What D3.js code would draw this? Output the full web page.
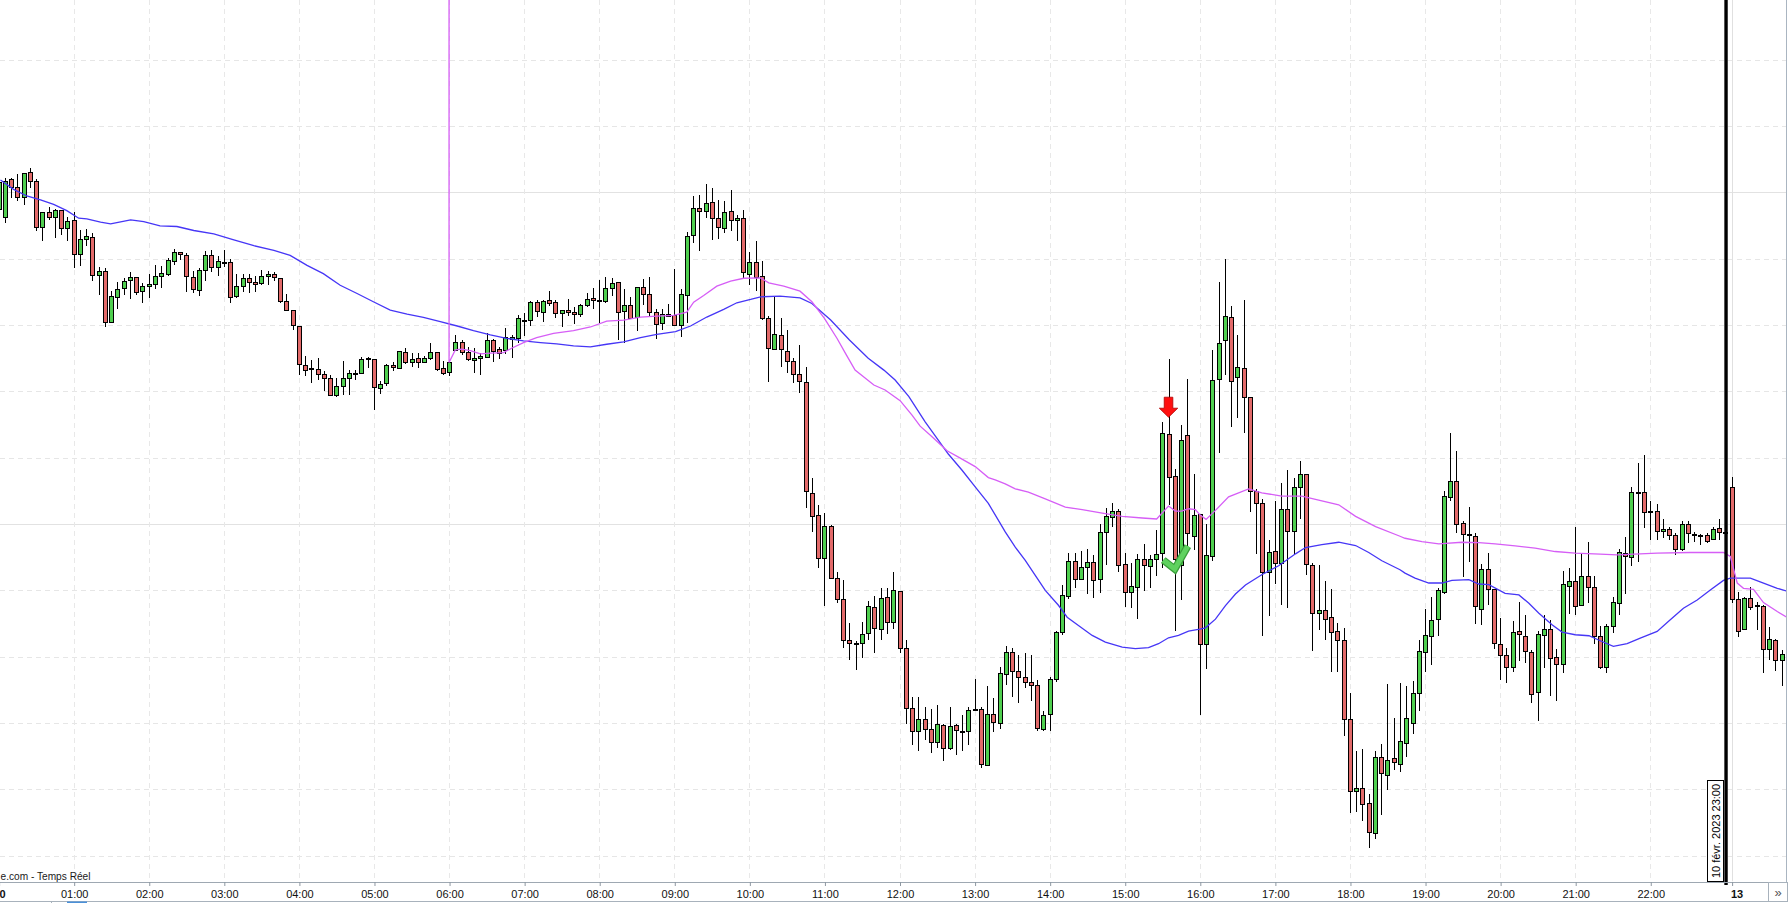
<!DOCTYPE html>
<html>
<head>
<meta charset="utf-8">
<script src="https://cdn.jsdelivr.net/npm/d3@7/dist/d3.min.js"></script>
<style>
html,body{margin:0;padding:0;background:#fff;overflow:hidden;}
svg{display:block;}
</style>
</head>
<body>
<svg id="chart" width="1788" height="903"></svg>
<script>
// ---------- DATA (5-minute candles, index 0 = 10 Feb 00:00 ; 277 = 13 Feb 00:00) ----------
const openP = [
15455.0,15452.5,15463.9,15461.5,15458.5,15466.0,15463.3,15449.7,15454.0,15452.7,15454.6,15449.4,
15451.6,15441.3,15445.9,15446.5,15435.0,15436.3,15420.9,15428.5,15431.1,15433.5,15434.5,15430.3,
15431.7,15432.3,15434.8,15435.4,15439.3,15442.0,15441.1,15434.6,15430.7,15436.6,15441.1,15437.5,
15439.0,15439.0,15428.7,15431.8,15434.3,15433.0,15432.7,15434.8,15435.4,15434.2,15427.2,15424.6,
15419.7,15407.9,15407.1,15406.7,15405.2,15404.0,15398.9,15401.7,15404.0,15405.5,15405.5,15410.0,
15409.7,15401.0,15402.5,15407.9,15407.1,15411.8,15408.8,15410.0,15408.9,15410.1,15411.8,15407.0,
15405.8,15412.5,15414.8,15412.0,15409.3,15410.0,15410.3,15415.5,15412.8,15412.5,15415.9,15416.0,
15421.5,15421.4,15426.9,15423.8,15427.4,15426.9,15423.5,15424.4,15423.9,15423.2,15425.9,15428.0,
15427.4,15427.2,15431.2,15432.9,15424.3,15426.1,15422.3,15431.5,15429.4,15424.0,15420.6,15423.4,
15422.9,15420.1,15429.1,15447.1,15455.2,15454.3,15457.0,15452.2,15449.2,15454.3,15451.6,15452.2,
15435.4,15439.0,15434.8,15422.2,15412.9,15417.1,15412.3,15409.0,15405.1,15402.7,15369.2,15362.6,
15349.6,15359.4,15343.6,15337.5,15324.9,15324.0,15324.0,15327.0,15335.1,15328.2,15337.9,15330.3,
15339.8,15322.5,15304.4,15297.5,15301.1,15298.1,15294.4,15299.3,15292.6,15299.3,15297.7,15297.5,
15304.2,15304.1,15287.3,15302.6,15300.1,15314.9,15321.4,15315.7,15314.0,15312.3,15311.5,15298.3,
15302.8,15313.3,15327.4,15338.3,15348.8,15343.5,15347.0,15348.6,15343.5,15357.6,15362.2,15364.0,
15348.0,15339.5,15341.0,15349.5,15347.3,15349.5,15351.2,15387.2,15374.5,15347.7,15386.9,15356.5,
15362.9,15323.7,15350.3,15403.6,15415.4,15422.3,15404.3,15407.1,15398.3,15369.9,15366.2,15345.6,
15351.8,15348.3,15364.4,15358.0,15371.1,15375.0,15347.6,15333.3,15334.0,15331.9,15327.7,15325.1,
15301.2,15279.4,15280.4,15276.0,15266.8,15289.7,15284.4,15289.3,15287.7,15294.0,15300.0,15309.0,
15321.4,15326.1,15331.3,15339.6,15368.1,15372.9,15360.2,15356.9,15356.3,15334.3,15346.4,15340.3,
15323.8,15320.4,15316.8,15327.7,15326.2,15321.4,15309.3,15326.5,15328.3,15319.8,15317.7,15341.4,
15342.8,15335.5,15344.3,15340.9,15326.1,15316.8,15329.1,15336.1,15351.2,15350.1,15369.7,15369.6,
15363.9,15363.8,15357.9,15358.4,15356.6,15352.4,15360.1,15356.9,15356.8,15356.6,15355.4,15358.7,
15357.5,15371.3,15337.3,15328.3,15337.6,15335.5,15335.3,15322.3,15325.1,15319.0
];
const highP = [
15465.0,15464.2,15464.2,15465.5,15465.9,15467.2,15464.0,15454.2,15455.5,15454.9,15454.7,15452.5,
15454.0,15448.7,15448.9,15447.7,15437.5,15437.2,15430.2,15433.0,15434.2,15436.0,15434.5,15432.7,
15435.5,15438.1,15437.9,15440.3,15443.0,15442.1,15441.7,15436.4,15437.2,15442.4,15442.6,15440.9,
15442.5,15440.0,15435.5,15435.5,15435.5,15434.7,15436.5,15436.4,15436.0,15434.2,15429.4,15424.6,
15419.7,15410.7,15409.3,15410.0,15406.2,15404.9,15404.0,15409.2,15406.5,15406.3,15410.3,15410.3,
15409.7,15403.0,15408.3,15408.7,15412.3,15413.1,15411.5,15411.5,15410.7,15414.5,15411.8,15409.0,
15409.1,15416.9,15415.5,15413.3,15413.0,15411.7,15417.5,15415.9,15413.3,15419.0,15417.0,15423.0,
15423.5,15427.3,15427.5,15427.5,15430.2,15427.5,15424.4,15427.7,15425.5,15426.3,15429.8,15431.3,
15433.7,15434.5,15434.2,15432.9,15431.0,15428.5,15431.5,15433.9,15434.5,15424.9,15424.9,15426.4,
15437.0,15431.0,15448.0,15458.9,15459.2,15462.5,15461.2,15457.7,15457.4,15460.7,15453.1,15454.6,
15442.0,15445.4,15439.4,15422.7,15428.5,15422.0,15418.6,15410.0,15413.9,15407.4,15374.0,15365.6,
15363.2,15359.7,15345.6,15343.1,15330.0,15324.8,15330.3,15336.7,15338.3,15340.6,15340.6,15345.5,
15339.8,15325.0,15307.7,15307.7,15304.7,15304.2,15305.4,15299.6,15304.7,15299.6,15302.4,15304.7,
15313.4,15304.7,15311.1,15307.4,15317.0,15323.1,15322.7,15320.6,15321.2,15320.4,15313.1,15303.5,
15313.8,15327.7,15341.5,15351.2,15351.3,15352.0,15352.5,15350.8,15360.1,15364.9,15366.4,15364.6,
15351.3,15348.3,15351.0,15354.0,15350.8,15358.1,15390.7,15409.8,15376.6,15389.9,15403.8,15375.2,
15362.9,15360.0,15412.4,15433.0,15440.0,15425.6,15417.0,15427.6,15398.3,15370.5,15367.6,15355.3,
15367.0,15372.5,15376.2,15373.8,15379.1,15375.0,15348.3,15347.7,15342.8,15340.4,15330.1,15328.7,
15309.0,15291.7,15292.3,15278.6,15291.4,15293.8,15311.7,15301.6,15312.0,15311.0,15312.8,15325.1,
15334.4,15337.9,15340.6,15370.0,15387.4,15382.1,15360.9,15365.1,15357.2,15348.0,15351.2,15340.3,
15331.6,15322.6,15330.6,15336.6,15332.6,15322.1,15327.6,15332.6,15331.1,15322.3,15345.7,15346.7,
15359.0,15351.2,15354.5,15344.2,15329.1,15329.9,15337.9,15352.5,15356.0,15371.1,15378.3,15380.8,
15367.0,15366.0,15361.6,15359.0,15357.2,15360.9,15360.9,15357.7,15357.0,15357.2,15359.0,15361.6,
15357.7,15374.1,15339.4,15338.1,15341.0,15336.6,15335.6,15328.9,15325.4,15321.9
];
const lowP = [
15452.0,15451.2,15458.7,15457.7,15456.4,15461.5,15448.7,15445.5,15451.9,15446.4,15447.3,15445.5,
15437.4,15438.2,15444.2,15433.5,15429.3,15419.7,15420.9,15425.1,15429.3,15428.2,15429.5,15426.9,
15428.4,15431.3,15431.4,15435.2,15438.3,15439.9,15430.2,15429.9,15429.0,15433.7,15436.4,15435.0,
15437.7,15426.9,15428.5,15430.2,15429.9,15430.2,15432.5,15432.5,15433.5,15426.9,15424.4,15418.9,
15405.2,15405.0,15402.7,15403.7,15400.3,15398.9,15398.7,15399.2,15399.2,15403.7,15405.5,15407.3,
15394.7,15399.5,15401.8,15406.5,15407.1,15408.5,15407.5,15407.3,15408.9,15409.9,15406.3,15405.3,
15405.0,15412.5,15411.3,15409.3,15405.7,15405.1,15410.3,15409.0,15410.2,15411.5,15410.5,15415.0,
15417.0,15420.0,15422.7,15421.3,15426.0,15422.3,15419.8,15423.0,15420.7,15422.8,15425.7,15425.0,
15421.0,15426.9,15428.9,15415.7,15415.0,15422.0,15418.5,15426.2,15423.0,15416.2,15418.7,15422.7,
15419.9,15416.7,15420.9,15444.9,15442.7,15452.7,15445.9,15446.2,15447.9,15448.5,15445.5,15434.5,
15432.4,15430.5,15421.9,15403.0,15412.9,15407.5,15405.7,15402.7,15399.7,15365.0,15358.0,15347.1,
15335.5,15343.6,15336.6,15322.8,15319.4,15316.2,15320.0,15325.4,15321.5,15325.4,15327.0,15328.5,
15321.5,15300.1,15293.6,15292.0,15295.3,15291.2,15292.8,15288.8,15292.3,15290.5,15292.0,15293.6,
15303.9,15286.6,15287.3,15297.5,15298.4,15311.8,15308.1,15306.3,15310.8,15307.0,15298.0,15298.0,
15298.0,15312.6,15326.9,15337.8,15341.0,15343.5,15339.2,15338.0,15339.5,15348.0,15359.3,15345.7,
15335.2,15334.9,15331.6,15340.2,15341.0,15344.5,15347.0,15366.1,15328.1,15337.5,15353.8,15352.5,
15302.6,15316.6,15349.1,15381.7,15405.3,15389.6,15392.4,15387.8,15363.9,15351.4,15326.6,15332.5,
15342.1,15336.0,15335.1,15351.2,15361.7,15345.0,15321.9,15328.4,15325.4,15315.8,15315.7,15296.5,
15273.1,15273.5,15270.6,15262.5,15265.4,15272.7,15280.1,15286.2,15285.5,15290.0,15297.0,15304.0,
15315.8,15317.8,15326.6,15339.3,15367.3,15357.7,15344.2,15348.7,15330.1,15329.8,15335.8,15322.5,
15313.4,15312.3,15315.8,15319.0,15318.5,15306.2,15301.0,15317.0,15308.3,15306.8,15315.3,15333.1,
15332.8,15335.5,15336.6,15324.1,15316.5,15315.5,15327.4,15332.8,15339.3,15347.7,15348.7,15359.0,
15355.4,15355.4,15356.2,15355.4,15350.9,15352.2,15354.7,15355.0,15353.9,15354.7,15355.4,15355.4,
15357.2,15336.6,15326.1,15328.3,15334.3,15328.3,15315.5,15319.2,15316.0,15311.5
];
const closeP = [
15463.0,15463.5,15461.5,15458.5,15465.7,15463.3,15449.7,15454.0,15452.7,15454.6,15449.4,15451.3,
15441.3,15445.9,15446.8,15435.0,15436.3,15420.9,15428.6,15431.0,15433.4,15434.6,15429.9,15431.9,
15432.4,15434.8,15435.7,15439.7,15442.0,15441.4,15434.8,15430.9,15436.6,15441.1,15437.5,15439.3,
15439.0,15428.5,15431.8,15434.3,15433.0,15432.4,15434.8,15435.4,15434.5,15427.2,15424.6,15419.9,
15408.1,15406.3,15406.7,15405.1,15404.0,15398.9,15401.7,15404.0,15405.5,15405.5,15409.7,15409.8,
15401.3,15402.2,15407.9,15407.3,15412.1,15408.9,15409.7,15408.9,15410.1,15411.8,15406.7,15405.5,
15408.7,15414.8,15412.0,15409.8,15410.0,15410.7,15415.5,15412.1,15411.5,15416.5,15416.4,15422.0,
15421.5,15426.8,15424.2,15427.2,15426.5,15423.5,15424.4,15423.8,15423.3,15425.9,15427.7,15427.4,
15427.2,15431.2,15432.7,15424.0,15426.1,15422.0,15431.5,15429.4,15424.0,15420.4,15423.4,15422.7,
15420.1,15429.4,15446.8,15455.2,15454.3,15456.7,15452.2,15449.5,15454.0,15451.6,15452.2,15436.0,
15439.0,15434.5,15422.2,15413.2,15417.4,15412.9,15409.0,15405.2,15403.0,15369.8,15362.4,15349.6,
15359.4,15343.6,15337.5,15324.9,15324.0,15323.8,15326.7,15335.4,15328.5,15337.6,15330.3,15340.0,
15322.5,15304.4,15297.5,15301.1,15298.1,15294.4,15299.6,15292.6,15299.0,15297.8,15297.5,15303.8,
15304.0,15287.5,15302.6,15300.2,15315.0,15321.4,15315.6,15314.0,15312.3,15311.5,15298.6,15302.5,
15313.3,15327.4,15338.7,15348.8,15343.5,15347.0,15348.6,15343.2,15357.6,15362.5,15364.0,15347.7,
15339.5,15341.4,15349.5,15347.7,15349.5,15351.0,15387.5,15374.1,15349.5,15385.4,15357.3,15362.8,
15323.9,15350.6,15403.3,15414.5,15422.7,15403.1,15407.4,15398.3,15369.9,15366.2,15345.6,15351.7,
15348.3,15364.4,15358.0,15371.1,15375.2,15347.9,15333.3,15334.0,15331.3,15327.5,15325.1,15301.2,
15279.4,15280.4,15275.6,15267.2,15289.7,15285.0,15288.9,15288.2,15294.7,15301.5,15309.0,15321.7,
15326.5,15331.0,15340.0,15368.4,15372.9,15359.9,15356.9,15356.7,15335.2,15346.4,15340.3,15324.1,
15320.4,15316.8,15327.4,15326.8,15321.7,15308.7,15326.8,15328.3,15319.5,15317.7,15341.9,15342.8,
15335.3,15344.3,15340.9,15326.1,15317.0,15329.1,15336.4,15351.7,15350.4,15369.6,15369.6,15363.6,
15363.7,15357.9,15358.4,15356.6,15352.4,15360.1,15357.4,15356.8,15356.7,15355.0,15358.4,15357.7,
15357.4,15337.3,15327.8,15337.6,15334.9,15335.3,15322.3,15325.3,15319.0,15320.7
];

// blue moving average  [candle index, value]
const blueLine = [
[0.3,15463.7],[2.4,15460.9],[4.5,15458.9],[6.7,15457.7],[8.8,15456.4],[10.9,15454.5],[12.8,15452.2],[14.1,15452.0],
[16.3,15451.0],[17.9,15450.5],[18.9,15450.9],[21.1,15451.7],[23.2,15451.2],[25.8,15449.9],[28.5,15449.7],[31.2,15448.5],
[34.4,15447.5],[37.6,15445.7],[40.8,15443.9],[44.0,15442.5],[46.6,15441.0],[49.3,15438.0],[51.9,15435.5],[54.6,15432.0],
[57.3,15429.5],[59.9,15427.0],[62.6,15424.5],[65.3,15423.3],[67.9,15422.3],[70.6,15421.0],[73.3,15419.7],[75.9,15418.3],
[78.6,15417.0],[81.2,15416.0],[83.9,15415.2],[86.6,15414.7],[89.2,15414.3],[91.9,15413.7],[94.6,15413.4],[97.2,15414.2],
[99.9,15414.9],[102.6,15416.2],[105.2,15417.2],[108.2,15418.0],[110.6,15419.7],[113.2,15422.4],[115.9,15424.7],[118.0,15426.7],
[120.2,15427.7],[121.8,15428.5],[124.9,15428.7],[128.1,15428.2],[130.0,15426.5],[133.0,15421.5],[136.0,15415.5],[139.0,15410.0],
[141.5,15406.4],[143.3,15403.4],[145.5,15398.4],[148.1,15390.8],[150.2,15385.3],[151.8,15381.1],[154.0,15376.2],[156.1,15371.2],
[158.2,15366.2],[160.1,15360.2],[160.9,15357.6],[162.5,15353.0],[164.1,15349.0],[165.7,15344.5],[167.3,15340.0],[169.4,15335.5],
[170.8,15331.9],[172.6,15329.4],[174.8,15326.4],[176.9,15324.4],[179.6,15322.9],[181.7,15322.4],[183.8,15322.7],[185.4,15323.9],
[187.0,15325.7],[188.6,15326.4],[190.2,15327.7],[192.0,15328.3],[192.9,15328.7],[194.5,15331.3],[196.1,15335.4],[197.7,15338.9],
[199.3,15341.6],[201.9,15344.7],[204.6,15347.4],[207.3,15351.0],[208.9,15352.9],[211.5,15353.8],[214.2,15354.5],[216.9,15353.5],
[219.0,15351.4],[221.1,15348.9],[224.0,15346.2],[224.8,15345.2],[226.4,15343.7],[228.6,15342.2],[230.7,15342.2],[232.3,15343.0],
[235.0,15343.2],[236.6,15341.9],[238.2,15341.7],[240.8,15339.1],[243.0,15338.6],[244.6,15336.1],[246.2,15333.1],[248.3,15329.6],
[249.9,15327.4],[252.0,15326.6],[254.2,15326.3],[256.0,15324.8],[258.1,15323.1],[260.3,15323.9],[262.4,15325.6],[265.1,15327.6],
[267.2,15331.1],[269.3,15334.6],[271.5,15337.1],[273.6,15340.1],[275.7,15343.0],[276.8,15343.7],[280.0,15343.7],[282.1,15342.2],
[284.3,15340.6],[286.1,15339.6]
];

// magenta average, starts at 06:00 (first value off the top of the chart)
const magentaLine = [
[72,20000],[72,15408.7],[73.0,15412.5],[74.0,15412.7],[75.4,15412.3],[77.0,15411.3],[78.6,15411.5],[80.7,15411.7],[82.0,15413.0],
[83.9,15414.7],[86.0,15416.2],[88.7,15417.5],[91.9,15418.3],[94.6,15419.4],[97.2,15421.2],[99.9,15421.5],[102.6,15422.4],
[105.2,15422.7],[107.9,15422.9],[110.0,15423.9],[111.1,15426.9],[112.7,15428.9],[114.8,15431.7],[117.0,15433.2],[119.1,15434.1],
[121.8,15434.2],[123.1,15432.7],[125.5,15431.7],[128.1,15430.2],[130.0,15427.0],[132.0,15422.0],[134.0,15416.0],[135.5,15411.0],
[136.9,15406.4],[139.9,15401.9],[141.7,15400.4],[144.1,15397.2],[146.0,15392.8],[147.3,15389.5],[149.2,15386.3],[151.6,15382.1],
[153.5,15380.1],[156.1,15377.3],[158.2,15374.0],[159.3,15373.3],[160.9,15372.1],[162.5,15370.6],[164.6,15369.6],[167.3,15367.6],
[170.5,15365.1],[173.2,15364.3],[176.4,15363.3],[179.6,15362.3],[182.8,15361.8],[185.1,15361.5],[187.0,15365.4],[188.1,15363.9],
[189.1,15363.9],[190.2,15364.6],[191.3,15364.3],[192.1,15362.6],[193.0,15361.4],[194.5,15364.1],[196.6,15368.2],[199.8,15370.6],
[201.9,15369.4],[205.1,15368.4],[208.3,15368.4],[211.0,15367.2],[214.2,15365.8],[216.9,15362.3],[220.1,15359.2],[224.0,15356.3],
[224.8,15355.7],[227.5,15354.7],[230.2,15354.0],[233.9,15354.5],[236.6,15354.4],[239.2,15354.0],[242.4,15353.4],[245.6,15352.7],
[248.8,15351.7],[252.0,15351.2],[256.0,15350.9],[258.7,15350.7],[265.1,15351.2],[270.4,15351.4],[275.7,15351.4],[276.8,15350.2],
[277.9,15342.2],[278.9,15340.6],[280.5,15340.3],[282.1,15336.3],[284.3,15333.6],[286.1,15331.6]
];

const tickIdx = [0,12,24,36,48,60,72,84,96,108,120,132,144,156,168,180,192,204,216,228,240,252,264,277];
const tickLabels = ["10","01:00","02:00","03:00","04:00","05:00","06:00","07:00","08:00","09:00","10:00","11:00",
  "12:00","13:00","14:00","15:00","16:00","17:00","18:00","19:00","20:00","21:00","22:00","13"];
const boldLabels = ["10","13"];
const gridPrices = [15260,15280,15300,15320,15340,15360,15380,15400,15420,15440,15460,15480,15500];
const majorGridPrices = [15360,15460];
const dayStartIdx = 277;
const sessionEndIdx = 276;
const sessionEndLabel = "10 févr. 2023 23:00";
const sellSignal = {i:187, p:15392.2};
const buySignal  = {i:188, p:15346.1};
const footerText = "e.com - Temps Réel";

// ---------- DRAWING ----------
const W = 1788, H = 903, plotRight = 1786, plotBottom = 881.5, axisY = 882;
const svg = d3.select("#chart");
const FONT = "'Liberation Sans', Arial, sans-serif";

const x = d3.scaleLinear().domain([0, 276]).range([-1.4, -1.4 + 6.2563 * 276]);
const y = d3.scaleLinear().domain([15252.2, 15518]).range([plotBottom, 0]);

svg.append("rect").attr("width", W).attr("height", H).attr("fill", "#fff");
svg.append("defs").append("clipPath").attr("id", "plotClip")
  .append("rect").attr("x", 0).attr("y", 0).attr("width", plotRight).attr("height", plotBottom);

const plot = svg.append("g").attr("clip-path", "url(#plotClip)");

// horizontal grid
plot.append("g").selectAll("line").data(gridPrices).join("line")
  .attr("x1", 0).attr("x2", plotRight)
  .attr("y1", d => Math.round(y(d)) + 0.5).attr("y2", d => Math.round(y(d)) + 0.5)
  .attr("stroke", d => majorGridPrices.includes(d) ? "#e2e2e2" : "#e6e6e6")
  .attr("stroke-width", 1)
  .attr("stroke-dasharray", d => majorGridPrices.includes(d) ? null : "5,4");

// vertical grid (hours dashed, day start solid)
plot.append("g").selectAll("line").data(tickIdx).join("line")
  .attr("x1", d => Math.round(x(d)) + 0.5).attr("x2", d => Math.round(x(d)) + 0.5)
  .attr("y1", 0).attr("y2", plotBottom)
  .attr("stroke", d => d === dayStartIdx ? "#e0e0e0" : "#e8e8e8")
  .attr("stroke-dasharray", d => d === dayStartIdx ? null : "5,4");

// candles
const candles = openP.map((o, i) => ({i, o, h: highP[i], l: lowP[i], c: closeP[i]}));
const cg = plot.append("g");
cg.selectAll("line.wick").data(candles).join("line").attr("class", "wick")
  .attr("x1", d => Math.round(x(d.i)) + 0.5).attr("x2", d => Math.round(x(d.i)) + 0.5)
  .attr("y1", d => Math.round(y(d.h))).attr("y2", d => Math.round(y(d.l)) + 1)
  .attr("stroke", "#000").attr("stroke-width", 1);
cg.selectAll("rect.body").data(candles).join("rect").attr("class", "body")
  .attr("x", d => Math.round(x(d.i)) - 1.5)
  .attr("width", 4)
  .attr("y", d => Math.round(y(Math.max(d.o, d.c))) + 0.5)
  .attr("height", d => Math.max(1, Math.round(y(Math.min(d.o, d.c))) - Math.round(y(Math.max(d.o, d.c)))))
  .attr("fill", d => d.c > d.o ? "#4fcf4f" : (d.c < d.o ? "#e26a6a" : "#000"))
  .attr("stroke", "#000").attr("stroke-width", 1);

// moving averages
const lineGen = d3.line().x(d => x(d[0])).y(d => y(d[1]));
plot.append("path").datum(blueLine).attr("d", lineGen)
  .attr("fill", "none").attr("stroke", "#4636f6").attr("stroke-width", 1.3);
plot.append("path").datum(magentaLine).attr("d", lineGen)
  .attr("fill", "none").attr("stroke", "#d65ef6").attr("stroke-width", 1.3);

// sell signal arrow
const sx = x(sellSignal.i), sy = y(sellSignal.p);
plot.append("path")
  .attr("d", `M${sx-4.3},${sy-20} L${sx+4.3},${sy-20} L${sx+4.3},${sy-9} L${sx+9.2},${sy-9} L${sx},${sy} L${sx-9.2},${sy-9} L${sx-4.3},${sy-9} Z`)
  .attr("fill", "#ff1010").attr("stroke", "#b00000").attr("stroke-width", 0.8);

// buy signal check mark
const bx = x(buySignal.i), by = y(buySignal.p);
const checkD = `M${bx-11.5},${by-10} L${bx},${by-1} L${bx+13},${by-24}`;
plot.append("path").attr("d", checkD).attr("fill", "none")
  .attr("stroke", "#3a9d3a").attr("stroke-width", 7.5).attr("stroke-linejoin", "miter").attr("stroke-linecap", "butt");
plot.append("path").attr("d", checkD).attr("fill", "none")
  .attr("stroke", "#5fd25f").attr("stroke-width", 5).attr("stroke-linejoin", "miter").attr("stroke-linecap", "butt");

// right plot border
svg.append("line").attr("x1", plotRight + 0.5).attr("x2", plotRight + 0.5).attr("y1", 0).attr("y2", axisY)
  .attr("stroke", "#aab5c1");

// session end line
const ex = x(sessionEndIdx) + 0.7;
svg.append("line").attr("x1", ex).attr("x2", ex).attr("y1", 0).attr("y2", axisY + 3)
  .attr("stroke", "#000").attr("stroke-width", 3.4);

// session end label box
const lbW = 16, lbH = 101, lbX = Math.round(ex - 1.7) - lbW - 0.5, lbY = 780.5;
svg.append("rect").attr("x", lbX).attr("y", lbY).attr("width", lbW).attr("height", lbH)
  .attr("fill", "#fff").attr("stroke", "#000").attr("stroke-width", 1);
svg.append("text")
  .attr("transform", `translate(${lbX + 12.3},${lbY + lbH / 2}) rotate(-90)`)
  .attr("text-anchor", "middle").attr("font-family", FONT).attr("font-size", 11).attr("fill", "#000")
  .text(sessionEndLabel);

// footer source text
svg.append("text").attr("x", 0.5).attr("y", 880).attr("text-anchor", "start")
  .attr("font-family", FONT).attr("font-size", 11).attr("fill", "#1a1a1a")
  .attr("textLength", 90).attr("lengthAdjust", "spacingAndGlyphs").text(footerText);

// time axis
svg.append("line").attr("x1", 0).attr("x2", W).attr("y1", axisY + 0.5).attr("y2", axisY + 0.5).attr("stroke", "#9ea8b2");
svg.append("line").attr("x1", 0).attr("x2", W).attr("y1", 901.5).attr("y2", 901.5).attr("stroke", "#a8b2bc");
const axis = d3.axisBottom(x).tickValues(tickIdx).tickFormat((d, k) => tickLabels[k])
  .tickSize(4).tickSizeOuter(0).tickPadding(4);
const ag = svg.append("g").attr("transform", `translate(0.5,${axisY})`).call(axis);
ag.select(".domain").remove();
ag.selectAll(".tick line").attr("stroke", "#8e98a2");
ag.selectAll(".tick text").attr("font-family", FONT).attr("font-size", 11).attr("fill", "#111")
  .attr("font-weight", (d, k) => boldLabels.includes(tickLabels[k]) ? "bold" : "normal")
  .attr("dx", (d, k) => tickLabels[k] === "13" ? 4.5 : 0);

// bottom strip details
svg.append("rect").attr("x", 67).attr("y", 901.5).attr("width", 20).attr("height", 1.5).attr("fill", "#4a90d9");
svg.append("line").attr("x1", 51.5).attr("x2", 51.5).attr("y1", 901.5).attr("y2", 903).attr("stroke", "#a8b2bc");
svg.append("rect").attr("x", 1768.5).attr("y", axisY + 0.5).attr("width", 19).attr("height", 19)
  .attr("fill", "#fff").attr("stroke", "#a8b2bc");
svg.append("text").attr("x", 1778).attr("y", 897).attr("text-anchor", "middle")
  .attr("font-family", FONT).attr("font-size", 13).attr("fill", "#555").text("»");
</script>
</body>
</html>
